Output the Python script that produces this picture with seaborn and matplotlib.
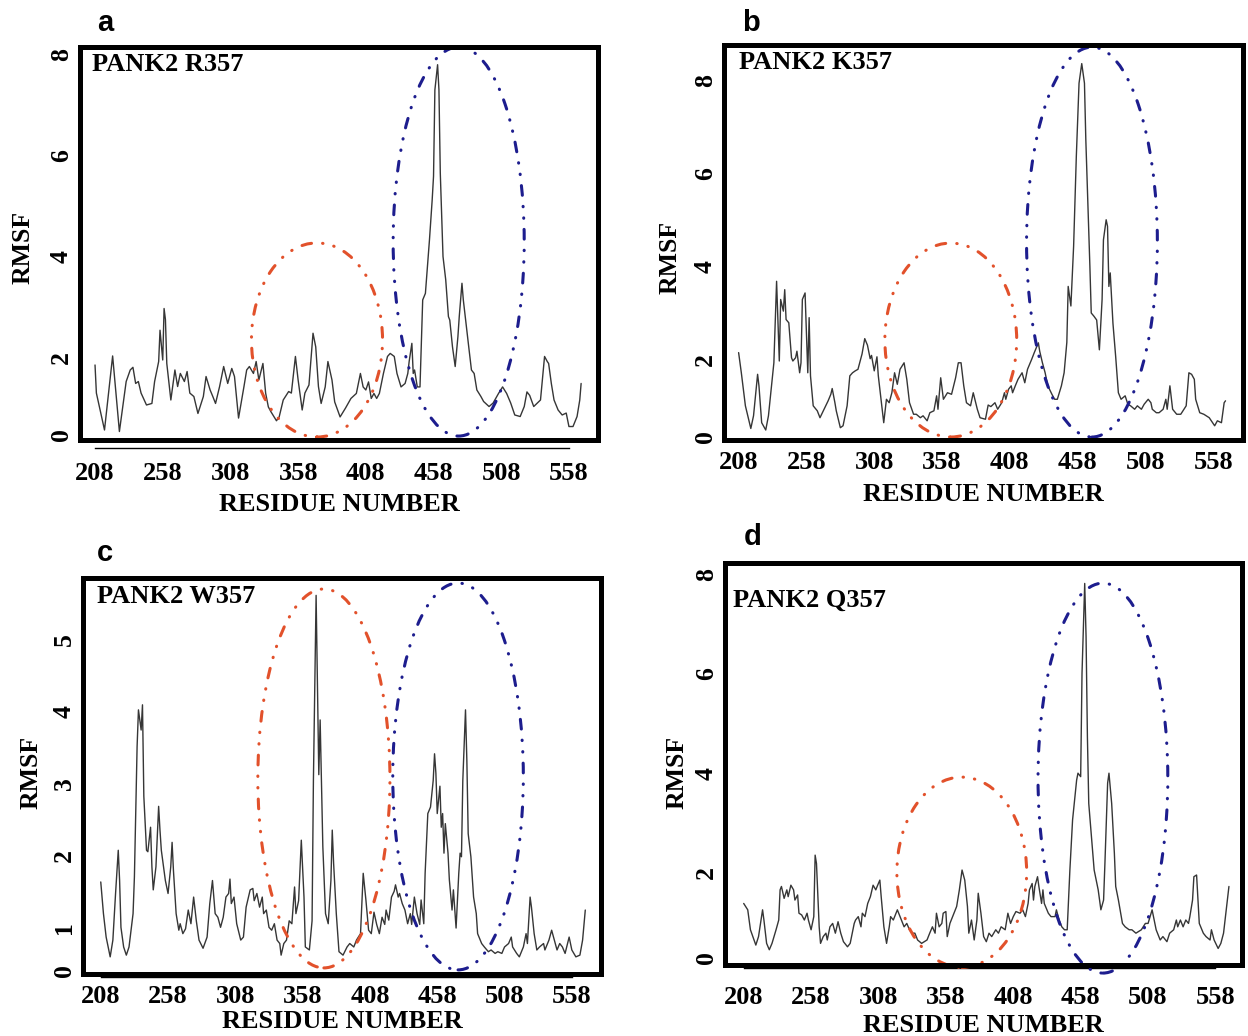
import numpy as np
import pandas as pd
import matplotlib
matplotlib.use("Agg")
import matplotlib.pyplot as plt
from matplotlib.patches import Ellipse, Rectangle
import seaborn as sns

sns.set_style("white")
plt.rcParams["font.family"] = ["Liberation Serif", "DejaVu Serif"]
plt.rcParams["font.weight"] = "bold"
plt.rcParams["lines.scale_dashes"] = False
for key in ["text.color", "axes.labelcolor", "xtick.color", "ytick.color", "axes.edgecolor"]:
    plt.rcParams[key] = "black"

# ---------------- data ----------------
res_a = [208,209,215,221,226,231,234,236,238,240,
         242,246,250,252,255,256,258,259,260,261,
         264,267,269,271,274,276,278,281,284,288,
         290,293,295,297,300,303,306,309,311,314,
         318,320,322,325,327,329,332,334,336,338,
         342,344,347,351,353,356,358,361,363,366,
         369,371,373,375,378,380,383,385,389,393,
         397,401,404,406,408,410,412,414,416,418,
         421,424,426,429,431,434,437,439,440,442,
         443,444,446,448,450,452,455,457,458,459,
         461,462,463,465,467,469,470,472,474,476,
         477,479,480,482,484,486,488,490,493,495,
         499,502,506,509,512,515,518,522,525,527,
         529,532,537,540,542,543,545,547,550,553,
         556,558,561,564,566,567]
rmsf_a = [1.87,1.14,0.18,2.08,0.14,1.44,1.74,1.81,1.39,1.44,
          1.14,0.83,0.87,1.44,1.96,2.59,2.00,3.02,2.80,1.91,
          0.96,1.74,1.31,1.65,1.44,1.70,1.14,1.05,0.61,1.05,
          1.57,1.22,1.05,0.87,1.31,1.83,1.39,1.78,1.57,0.49,
          1.31,1.74,1.83,1.65,1.96,1.48,1.91,1.14,0.78,0.65,
          0.42,0.52,0.96,1.18,1.14,2.07,1.48,0.70,1.14,1.35,
          2.53,2.26,1.31,0.87,1.30,1.96,1.48,0.91,0.52,0.75,
          1.00,1.13,1.65,1.30,1.22,1.43,1.00,1.13,1.00,1.13,
          1.65,2.07,2.13,2.07,1.65,1.30,1.39,1.65,1.96,2.33,
          1.65,1.74,1.30,1.30,3.19,3.32,4.38,5.17,5.64,7.35,
          7.85,7.35,5.70,4.05,3.59,2.86,2.79,2.26,1.83,2.46,
          2.86,3.52,3.19,2.72,2.26,1.74,1.65,1.22,1.05,0.92,
          0.79,0.88,1.13,1.30,1.13,0.88,0.57,0.53,0.79,1.17,
          1.08,0.79,0.96,2.07,1.96,1.91,1.39,0.96,0.70,0.57,
          0.62,0.27,0.27,0.53,0.96,1.39]

res_b = [208,210,213,217,219,222,223,225,228,230,
         234,236,238,239,241,242,243,245,247,248,
         250,251,253,254,255,257,259,260,261,263,
         266,268,271,274,276,277,279,280,283,285,
         288,290,292,294,296,299,301,303,305,306,
         308,310,311,313,315,317,319,321,323,325,
         327,330,332,334,337,339,342,344,347,349,
         352,354,355,357,359,362,365,368,370,372,
         374,376,379,381,384,386,390,392,394,397,
         399,402,404,405,407,409,410,412,414,417,
         419,421,424,426,429,430,432,434,436,439,
         441,443,446,448,450,451,453,455,457,459,
         461,462,463,464,467,468,470,472,474,476,
         477,479,480,481,482,484,486,488,490,493,
         495,497,500,502,505,507,510,512,513,516,
         518,521,523,524,526,528,531,534,538,540,
         542,544,545,548,551,555,559,561,564,566,
         567]
rmsf_b = [2.21,1.73,0.87,0.28,0.61,1.69,1.39,0.43,0.24,0.61,
          1.99,3.74,2.03,3.35,3.10,3.56,2.92,2.85,2.10,2.03,
          2.10,2.24,1.73,1.99,3.35,3.49,1.73,2.96,1.65,0.87,
          0.74,0.56,0.78,1.00,1.17,1.32,0.95,0.74,0.30,0.35,
          0.87,1.65,1.73,1.78,1.82,2.18,2.51,2.37,2.08,2.15,
          1.78,2.12,1.65,1.04,0.43,1.04,0.95,1.21,1.73,1.43,
          1.82,1.99,1.56,0.95,0.65,0.65,0.56,0.61,0.48,0.69,
          0.74,1.13,0.78,1.60,1.04,1.21,1.17,1.60,1.99,1.99,
          1.39,0.95,0.87,1.21,0.78,0.56,0.52,0.89,0.85,0.95,
          0.78,0.95,1.21,1.04,1.30,1.39,1.21,1.39,1.56,1.73,
          1.47,1.82,2.06,2.21,2.42,2.24,1.99,1.73,1.39,1.17,
          1.04,1.04,1.39,1.73,2.43,3.63,3.21,4.49,6.42,7.99,
          8.41,8.20,7.99,6.78,4.06,3.06,2.99,2.91,2.27,3.35,
          4.63,5.06,4.92,3.63,3.92,2.84,2.13,1.21,1.04,1.13,
          0.91,0.87,0.78,0.87,0.78,0.91,1.04,0.95,0.78,0.69,
          0.69,0.78,1.04,0.78,1.39,0.78,0.65,0.65,0.87,1.73,
          1.69,1.56,1.04,0.69,0.65,0.56,0.35,0.48,0.43,0.95,
          1.00]

res_c = [208,210,212,215,217,219,221,222,223,225,
         227,229,232,233,235,236,238,239,240,242,
         243,245,246,247,249,251,252,253,255,256,
         258,260,261,262,264,266,267,269,271,273,
         275,277,279,281,284,287,289,291,293,295,
         297,299,301,303,304,305,307,309,312,314,
         316,319,321,322,324,326,328,329,331,333,
         335,337,339,341,342,344,346,348,350,352,
         353,355,357,359,360,363,365,366,368,370,
         371,373,375,377,379,380,381,383,385,388,
         391,393,396,398,401,403,405,407,409,411,
         413,415,417,419,420,422,424,426,427,429,
         430,432,434,436,438,439,441,443,445,446,
         448,449,451,453,455,456,457,458,460,461,
         462,463,464,466,467,469,470,472,474,475,
         476,477,479,480,481,483,485,487,488,491,
         493,496,498,501,503,506,508,511,513,514,
         517,519,522,524,525,527,528,530,532,534,
         537,538,541,543,545,547,549,551,553,556,
         558,561,564,566,568]
rmsf_c = [1.67,1.23,0.84,0.38,0.77,1.51,2.11,1.69,1.04,0.61,
          0.42,0.61,1.23,1.74,3.55,4.06,3.78,4.13,2.86,2.11,
          2.09,2.43,1.88,1.56,1.88,2.72,2.39,2.11,1.83,1.69,
          1.51,1.88,2.22,1.83,1.23,1.00,1.09,0.92,1.02,1.28,
          1.09,1.46,1.13,0.77,0.58,0.84,1.37,1.69,1.23,1.18,
          1.04,1.18,1.46,1.51,1.71,1.37,1.46,1.09,0.77,0.84,
          1.32,1.56,1.58,1.41,1.51,1.32,1.46,1.23,1.28,1.04,
          1.00,1.09,0.77,0.69,0.42,0.69,0.77,1.13,1.09,1.60,
          1.23,1.41,2.25,1.46,0.61,0.54,1.13,3.08,5.65,3.16,
          3.92,2.16,1.23,1.09,1.69,2.39,1.93,1.23,0.50,0.42,
          0.61,0.69,0.61,0.77,0.92,1.79,1.42,1.00,0.92,1.25,
          1.08,0.92,1.18,1.08,1.28,1.14,1.46,1.54,1.63,1.46,
          1.51,1.37,1.28,1.09,1.23,1.08,1.46,1.23,1.08,1.42,
          1.09,1.79,2.62,2.71,3.08,3.45,3.18,2.62,3.00,2.43,
          2.62,2.07,2.48,2.07,1.70,1.28,1.56,1.03,1.79,2.07,
          2.02,3.08,4.06,3.36,2.34,2.02,1.46,1.23,0.92,0.69,
          0.61,0.50,0.54,0.46,0.50,0.46,0.61,0.69,0.84,0.61,
          0.46,0.38,0.61,0.92,0.69,1.46,1.32,0.92,0.54,0.61,
          0.69,0.54,0.77,1.00,0.77,0.54,0.69,0.61,0.46,0.84,
          0.54,0.38,0.42,0.77,1.28]

res_d = [208,211,213,217,219,222,223,225,227,229,
         232,234,235,236,238,240,241,243,245,246,
         248,249,251,253,255,256,258,260,261,262,
         264,265,267,269,270,272,274,276,278,280,
         282,285,287,290,291,293,295,296,298,300,
         302,304,306,307,309,310,312,314,316,317,
         319,321,322,324,325,327,329,331,333,335,
         337,340,342,344,346,348,350,351,353,355,
         356,358,359,361,364,366,368,370,372,374,
         375,377,379,381,382,384,386,388,390,392,
         395,397,399,402,404,406,408,410,413,415,
         417,419,420,422,423,424,426,427,429,430,
         431,434,436,439,440,442,444,446,448,450,
         452,455,456,458,459,461,462,463,464,466,
         468,470,471,473,475,476,478,479,481,483,
         484,486,489,491,494,496,499,501,503,506,
         508,511,512,514,517,519,522,524,527,529,
         530,532,534,536,538,539,541,542,544,545,
         546,549,551,554,555,557,560,562,564,566,
         568]
rmsf_d = [1.33,1.18,0.71,0.35,0.55,1.18,0.94,0.39,0.24,0.39,
          0.71,0.94,1.65,1.73,1.45,1.65,1.49,1.76,1.65,1.41,
          1.53,1.10,1.06,0.94,1.10,0.94,0.71,1.02,2.40,2.23,
          0.78,0.39,0.55,0.63,0.47,0.78,0.86,0.63,0.90,0.63,
          0.43,0.31,0.39,0.86,0.94,1.02,0.78,1.10,1.02,1.33,
          1.49,1.76,1.65,1.73,1.88,1.49,0.78,0.39,0.78,1.02,
          0.94,1.10,1.18,1.02,0.94,0.78,0.86,0.71,0.63,0.63,
          0.47,0.39,0.43,0.47,0.63,0.78,0.63,1.10,0.78,0.86,
          1.10,1.14,0.55,0.86,1.10,1.26,1.65,2.10,1.88,1.26,
          0.63,0.94,0.47,0.94,1.57,1.10,0.55,0.43,0.63,0.55,
          0.71,0.63,0.78,0.71,1.10,0.86,1.02,1.14,1.10,1.18,
          1.02,1.33,1.65,1.80,1.41,1.73,1.96,1.73,1.33,1.65,
          1.33,1.10,1.02,1.02,1.18,0.94,0.78,0.71,0.71,2.10,
          3.11,3.91,4.05,3.98,6.06,7.87,6.80,4.78,3.44,2.77,
          2.10,1.80,1.65,1.18,1.41,2.24,3.85,4.05,3.44,2.44,
          1.73,1.41,0.86,0.78,0.71,0.71,0.63,0.67,0.71,0.86,
          0.86,1.18,1.02,0.71,0.47,0.55,0.43,0.63,0.71,0.94,
          0.78,0.94,0.78,0.94,0.86,1.02,1.41,1.96,2.00,1.41,
          0.86,0.63,0.55,0.47,0.71,0.47,0.27,0.39,0.63,1.18,
          1.73]

panel_letters = ["a", "b", "c", "d"]
panel_titles = ["PANK2 R357", "PANK2 K357", "PANK2 W357", "PANK2 Q357"]
x_ticks = [208, 258, 308, 358, 408, 458, 508, 558]
y_ticks_8 = [0, 2, 4, 6, 8]
y_ticks_5 = [0, 1, 2, 3, 4, 5]

RED = "#e2512b"
BLUE = "#1d1d8e"
LINE = "#363636"
ELL_STYLE = (0, (7, 8, 0.3, 8, 0.3, 8))

# layout / style settings per panel
panels = [
    dict(res=res_a, val=rmsf_a, rect=[0.0641, 0.5753, 0.4151, 0.3793],
         xlim=(196.9, 579.5), brk=2, k=0.762, ylim=(-0.08, 8.2), yticks=y_ticks_8,
         xout=6, xtick_len=4, xpad=6, xlab_y=-0.134, ylab=(-0.087, 0.489),
         title_xy=(0.023, 0.985), letter_xy=(105, 23),
         red=(0.4575, 0.2545, 0.253, 0.494), blue=(0.731, 0.505, 0.253, 0.99)),
    dict(res=res_b, val=rmsf_b, rect=[0.5801, 0.5753, 0.4159, 0.3813],
         xlim=(197.2, 579.9), brk=2, k=0.824, ylim=(-0.02, 8.81), yticks=y_ticks_8,
         xout=1, xtick_len=2, xpad=5, xlab_y=-0.110, ylab=(-0.081, 0.461),
         title_xy=(0.029, 0.985), letter_xy=(751, 23),
         red=(0.437, 0.253, 0.254, 0.491), blue=(0.709, 0.501, 0.252, 0.987)),
    dict(res=res_c, val=rmsf_c, rect=[0.0665, 0.0598, 0.4151, 0.3822],
         xlim=(194.8, 579.7), brk=1, k=0.597, ylim=(-0.02, 5.89), yticks=y_ticks_5,
         xout=2, xtick_len=2, xpad=4, xlab_y=-0.092, ylab=(-0.079, 0.508),
         title_xy=(0.027, 0.982), letter_xy=(105, 553),
         red=(0.465, 0.494, 0.255, 0.957), blue=(0.724, 0.499, 0.252, 0.977)),
    dict(res=res_d, val=rmsf_d, rect=[0.5809, 0.0685, 0.4143, 0.388],
         xlim=(194.1, 577.7), brk=2, k=0.855, ylim=(-0.12, 8.28), yticks=y_ticks_8,
         xout=2, xtick_len=3, xpad=10, xlab_y=-0.122, ylab=(-0.071, 0.478),
         title_xy=(0.015, 0.935), letter_xy=(753, 537),
         red=(0.458, 0.231, 0.251, 0.473), blue=(0.731, 0.465, 0.251, 0.970)),
]


def make_scale(brk, k):
    def fwd(v):
        v = np.asarray(v, dtype=float)
        return np.where(v < brk, v * k, brk * k + (v - brk))

    def inv(u):
        u = np.asarray(u, dtype=float)
        return np.where(u < brk * k, u / k, u - brk * k + brk)
    return fwd, inv


W, H = 1248, 1036
fig = plt.figure(figsize=(W / 100, H / 100), dpi=100)
fig.patch.set_facecolor("white")

for i, p in enumerate(panels):
    ax = fig.add_axes(p["rect"])
    ax.set_facecolor("white")
    df = pd.DataFrame({"residue": p["res"], "rmsf": p["val"]})
    sns.lineplot(data=df, x="residue", y="rmsf", ax=ax, color=LINE,
                 linewidth=1.0, estimator=None, sort=False, zorder=3)

    fwd, inv = make_scale(p["brk"], p["k"])
    ax.set_yscale("function", functions=(fwd, inv))
    ax.set_ylim(*p["ylim"])
    ax.set_yticks(p["yticks"])
    ax.set_yticklabels([str(t) for t in p["yticks"]])
    ax.set_xlim(*p["xlim"])
    ax.set_xticks(x_ticks)
    ax.set_xticklabels([str(t) for t in x_ticks])
    ax.minorticks_off()

    for s in ["top", "right"]:
        ax.spines[s].set_visible(False)
    ax.spines["left"].set_position(("outward", 0))
    ax.spines["left"].set_bounds(0, p["yticks"][-1])
    ax.spines["left"].set_linewidth(1.0)
    ax.spines["bottom"].set_position(("outward", p["xout"]))
    ax.spines["bottom"].set_bounds(x_ticks[0], x_ticks[-1])
    ax.spines["bottom"].set_linewidth(1.0)

    ax.tick_params(axis="x", direction="out", length=p["xtick_len"], width=1,
                   pad=p["xpad"], labelsize=19, colors="black")
    ax.tick_params(axis="y", direction="out", length=4, width=1, pad=1,
                   labelsize=18.5, labelrotation=90, colors="black")
    for lab in ax.get_xticklabels() + ax.get_yticklabels():
        lab.set_fontweight("bold")

    ax.set_xlabel("RESIDUE NUMBER", fontsize=19, fontweight="bold")
    ax.set_ylabel("RMSF", fontsize=18.5, fontweight="bold")
    ax.xaxis.set_label_coords(0.5, p["xlab_y"])
    ax.yaxis.set_label_coords(*p["ylab"])

    # thick frame
    ax.add_patch(Rectangle((0, 0), 1, 1, transform=ax.transAxes, fill=False,
                           lw=3.6, ec="black", clip_on=False, zorder=6))

    # highlighted regions
    for key, col in (("red", RED), ("blue", BLUE)):
        cx, cy, w, h = p[key]
        ax.add_patch(Ellipse((cx, cy), w, h, transform=ax.transAxes, fill=False,
                             ec=col, lw=2.2, ls=ELL_STYLE, capstyle="round",
                             clip_on=False, zorder=4))

    ax.text(p["title_xy"][0], p["title_xy"][1], panel_titles[i],
            transform=ax.transAxes, ha="left", va="top", fontsize=19,
            fontweight="bold", color="black", zorder=7)

    lx, ly = p["letter_xy"]
    fig.text(lx / W, 1 - ly / H, panel_letters[i], ha="center", va="center",
             fontsize=21, fontweight="bold", family=["Liberation Sans", "DejaVu Sans"],
             color="black")

fig.savefig("out.png", dpi=100, facecolor="white")
